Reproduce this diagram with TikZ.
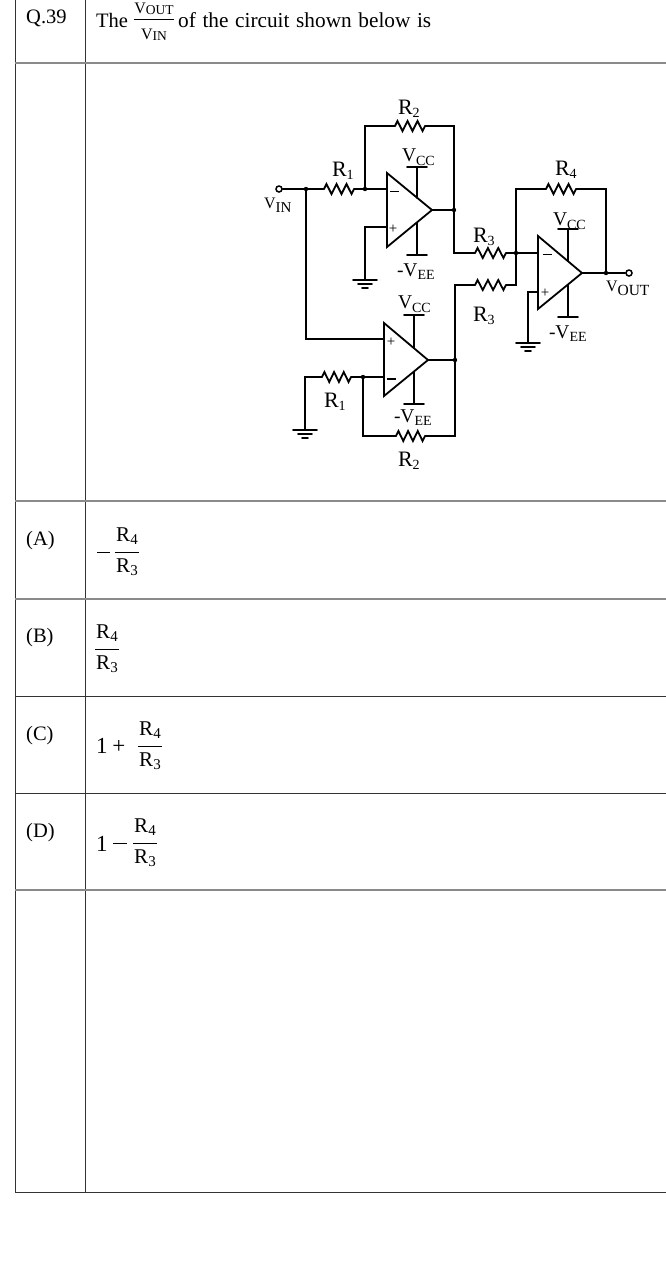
\documentclass[tikz,border=0pt]{standalone}
\usepackage{fontspec}
\setmainfont{Liberation Serif}
\usetikzlibrary{calc}
\definecolor{rulegray}{HTML}{8A8A8A}
\definecolor{ruledark}{HTML}{333333}
\newcommand{\fsz}[1]{\fontsize{#1}{#1}\selectfont}
\newcommand{\lowsub}[2]{\raisebox{-#1pt}{\fsz{14}#2}}
\newcommand{\RR}[1]{\fsz{22}R\lowsub{3}{#1}}
\newcommand{\VCC}{\fsz{19.5}V\lowsub{4}{CC}}
\newcommand{\VEE}{\fsz{19.5}-V\lowsub{3}{EE}}
\newcommand{\res}[2]{\draw[wire] (#1)
  -- ($(#1)!0.083!(#2)+(0,-5)$) -- ($(#1)!0.25!(#2)+(0,5)$)
  -- ($(#1)!0.417!(#2)+(0,-5)$) -- ($(#1)!0.583!(#2)+(0,5)$)
  -- ($(#1)!0.75!(#2)+(0,-5)$) -- ($(#1)!0.917!(#2)+(0,5)$) -- (#2);}
\newcommand{\gnd}[1]{\draw[wire] ($(#1)+(-12,0)$) -- ($(#1)+(12,0)$);
  \draw[wire] ($(#1)+(-7,4)$) -- ($(#1)+(7,4)$);
  \draw[wire] ($(#1)+(-3,8)$) -- ($(#1)+(3,8)$);}
\newcommand{\bigfrac}[4]{%
  \coordinate (#1l) at (#2-#3,#4); \coordinate (#1r) at (#2+#3,#4);
  \draw[fracbar] (#1l) -- (#1r);
  \node[opt,anchor=base] (#1t) at (#2,#4-11) {R\raisebox{-3pt}{\fsz{15}4}};
  \node[opt,anchor=base] (#1b) at (#2,#4+20) {R\raisebox{-3pt}{\fsz{15}3}};}
\tikzset{
  wire/.style={line width=1.8pt,black,line cap=round,line join=miter},
  dotj/.style={circle,fill=black,inner sep=0pt,minimum size=4.4pt},
  term/.style={circle,draw=black,fill=white,line width=1.5pt,inner sep=0pt,minimum size=6pt},
  lab/.style={anchor=base west,inner sep=0pt,outer sep=0pt},
  sign/.style={inner sep=0pt,font=\fsz{15}},
  txt/.style={anchor=base west,inner sep=0pt,font=\fsz{20.5}},
  opt/.style={inner sep=0pt,font=\fsz{21}},
  darkrule/.style={draw=ruledark,line width=1pt},
  grayrule/.style={draw=rulegray,line width=1.5pt},
  fracbar/.style={draw=black,line width=1pt}
}
\begin{document}
\begin{tikzpicture}[x=1pt,y=-1pt]
\useasboundingbox[fill=white] (0,0) rectangle (666,1262);
% table
\coordinate (tl) at (15,0); \coordinate (tb) at (15,1192);
\coordinate (cl) at (85,0); \coordinate (cb) at (85,1192);
\draw[darkrule] (tl) -- (tb); \draw[darkrule] (cl) -- (cb);
\foreach \yy in {63,501,599,890} \draw[grayrule] (15,\yy) -- (666,\yy);
\foreach \yy in {696,793,1192} \draw[darkrule] (15,\yy) -- (666,\yy);
% texts
\node[txt] (qn) at (26,23) {Q.39};
\node[txt] (the) at (96,27) {The};
\node[anchor=base west,inner sep=0pt] (rest) at (178,27) {\fsz{21.3}\spaceskip=6.6pt of the circuit shown below is};
\coordinate (fl) at (134,19.5); \coordinate (fr) at (174,19.5);
\draw[fracbar] (fl) -- (fr);
\node[anchor=base,inner sep=0pt] (ft) at (154,13) {\fsz{16}V\raisebox{-1pt}{\fsz{13.5}OUT}};
\node[anchor=base,inner sep=0pt] (fb) at (154,39) {\fsz{16}V\raisebox{-1pt}{\fsz{13.5}IN}};
\node[txt] (oa) at (26,545) {(A)};
\node[txt] (ob) at (26,642) {(B)};
\node[txt] (oc) at (26,740) {(C)};
\node[txt] (od) at (26,837) {(D)};
\coordinate (ma) at (97,552); \coordinate (mb) at (110,552); \draw[fracbar] (ma) -- (mb);
\bigfrac{fa}{127}{12}{552}
\bigfrac{fbb}{107}{12}{649}
\node[anchor=base west,inner sep=0pt] (onec) at (96,753.5) {\fsz{23}1 \hspace{-1pt}+};
\bigfrac{fc}{150}{12}{746}
\node[anchor=base west,inner sep=0pt] (oned) at (96,851) {\fsz{23}1};
\coordinate (md) at (113,843.5); \coordinate (me) at (127,843.5); \draw[fracbar] (md) -- (me);
\bigfrac{fd}{145}{12}{843.5}
% op amp 1
\coordinate (a1) at (387,173); \coordinate (a2) at (387,247); \coordinate (a3) at (432,210);
\draw[wire] (a1) -- (a2) -- (a3) -- cycle;
\coordinate (a1v) at (417,198); \coordinate (a1vb) at (417,167);
\coordinate (a1e) at (417,223); \coordinate (a1eb) at (417,255);
\draw[wire] (a1v) -- (a1vb); \draw[wire] (407,167) -- (427,167);
\draw[wire] (a1e) -- (a1eb); \draw[wire] (407,255) -- (427,255);
% op amp 2
\coordinate (b1) at (384,323); \coordinate (b2) at (384,396); \coordinate (b3) at (428,360);
\draw[wire] (b1) -- (b2) -- (b3) -- cycle;
\coordinate (b1v) at (414,348); \coordinate (b1vb) at (414,315);
\coordinate (b1e) at (414,372); \coordinate (b1eb) at (414,404);
\draw[wire] (b1v) -- (b1vb); \draw[wire] (404,315) -- (424,315);
\draw[wire] (b1e) -- (b1eb); \draw[wire] (404,404) -- (424,404);
% op amp 3
\coordinate (c1) at (538,236); \coordinate (c2) at (538,309); \coordinate (c3) at (582,273);
\draw[wire] (c1) -- (c2) -- (c3) -- cycle;
\coordinate (c1v) at (568,261); \coordinate (c1vb) at (568,229);
\coordinate (c1e) at (568,285); \coordinate (c1eb) at (568,317);
\draw[wire] (c1v) -- (c1vb); \draw[wire] (558,229) -- (578,229);
\draw[wire] (c1e) -- (c1eb); \draw[wire] (558,317) -- (578,317);
% signs
\node[sign] (s1) at (394.5,191.5) {\rule{9pt}{1.4pt}};
\node[sign] (s2) at (393,229) {+};
\node[sign] (s3) at (391,342) {+};
\node[sign] (s4) at (391,379) {\rule{9pt}{1.4pt}};
\node[sign] (s5) at (547,254.5) {\rule{9pt}{1.4pt}};
\node[sign] (s6) at (545,293) {+};
% terminals and junctions
\node[term] (vin) at (279,189) {};
\node[term] (vout) at (629,273) {};
\node[dotj] (j1) at (306,189) {};
\node[dotj] (j2) at (365,189) {};
\node[dotj] (j3) at (454,210) {};
\node[dotj] (j4) at (363,377) {};
\node[dotj] (j5) at (455,360) {};
\node[dotj] (j6) at (516,253) {};
\node[dotj] (j7) at (606,273) {};
% input network
\coordinate (r1a) at (324,189); \coordinate (r1b) at (354,189);
\draw[wire] (vin) -- (j1) -- (r1a); \res{r1a}{r1b}
\coordinate (i1m) at (387,189);
\draw[wire] (r1b) -- (j2) -- (i1m);
\coordinate (r2a) at (395,126); \coordinate (r2b) at (425,126);
\draw[wire] (j2) |- (r2a); \res{r2a}{r2b}
\draw[wire] (r2b) -| (j3);
\draw[wire] (a3) -- (j3);
\coordinate (i1p) at (387,227); \coordinate (g1) at (365,280);
\draw[wire] (i1p) -| (g1); \gnd{g1}
% second amp
\coordinate (i2p) at (384,339);
\draw[wire] (j1) |- (i2p);
\coordinate (r1c) at (322,377); \coordinate (r1d) at (351,377); \coordinate (g2) at (305,430);
\draw[wire] (g2) |- (r1c); \res{r1c}{r1d} \gnd{g2}
\coordinate (i2m) at (384,377);
\draw[wire] (r1d) -- (j4) -- (i2m);
\coordinate (r2c) at (396,436); \coordinate (r2d) at (425,436);
\draw[wire] (j4) |- (r2c); \res{r2c}{r2d}
\draw[wire] (r2d) -| (j5);
\draw[wire] (b3) -- (j5);
% R3 pair
\coordinate (r3a) at (475,253); \coordinate (r3b) at (506,253);
\coordinate (r3c) at (475,285); \coordinate (r3d) at (506,285);
\draw[wire] (j3) |- (r3a); \res{r3a}{r3b}
\draw[wire] (j5) |- (r3c); \res{r3c}{r3d}
\coordinate (i3m) at (538,253); \coordinate (j8) at (516,285);
\draw[wire] (r3b) -- (j6) -- (i3m);
\draw[wire] (r3d) -- (j8) -- (j6);
% third amp
\coordinate (r4a) at (546,189); \coordinate (r4b) at (576,189);
\draw[wire] (j6) |- (r4a); \res{r4a}{r4b}
\draw[wire] (r4b) -| (j7);
\draw[wire] (c3) -- (j7) -- (vout);
\coordinate (i3p) at (538,292); \coordinate (g3) at (528,343);
\draw[wire] (i3p) -| (g3); \gnd{g3}
% labels
\node[lab] (lr2) at (398,114) {\RR{2}};
\node[lab] (lr1) at (332,176) {\RR{1}};
\node[lab] (lr4) at (555,175) {\RR{4}};
\node[lab] (lr3) at (473,242) {\RR{3}};
\node[lab] (lr3b) at (473,321) {\RR{3}};
\node[lab] (lr1b) at (324,407) {\RR{1}};
\node[lab] (lr2b) at (398,466) {\RR{2}};
\node[lab] (lvc1) at (402,161) {\VCC};
\node[lab] (lvc2) at (398,308) {\VCC};
\node[lab] (lvc3) at (553,225) {\VCC};
\node[lab] (lve1) at (397,276) {\VEE};
\node[lab] (lve2) at (394,422) {\VEE};
\node[lab] (lve3) at (549,338) {\VEE};
\node[lab] (lvin) at (264,208) {\fsz{16}V\raisebox{-4pt}{\fsz{15}IN}};
\node[lab] (lvout) at (606,291) {\fsz{16}V\raisebox{-4pt}{\fsz{15.5}OUT}};
\end{tikzpicture}
\end{document}
